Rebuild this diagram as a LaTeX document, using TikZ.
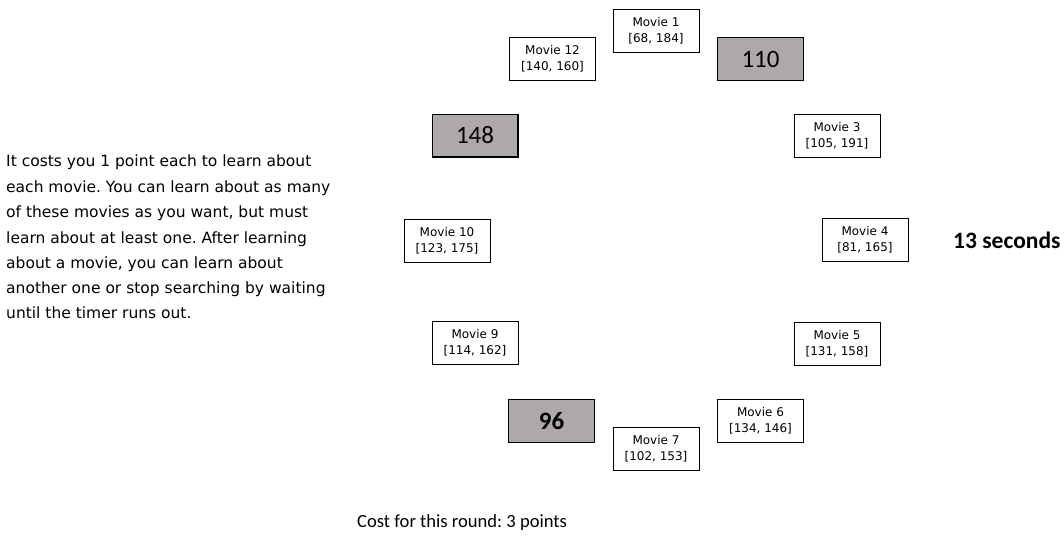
\documentclass[tikz,border=0pt]{standalone}
\usepackage{fontspec}
\setmainfont{DejaVu Sans}
\newfontfamily\carl{Carlito}
\definecolor{greyfill}{RGB}{173,169,169}
\frenchspacing
\begin{document}
\begin{tikzpicture}[x=1pt,y=-1pt,
  movie/.style={draw=black, line width=0.8pt, fill=white, minimum width=86pt, minimum height=43pt, inner sep=0pt, outer sep=0pt, align=center, font=\fontsize{12}{16}\selectfont},
  known/.style={draw=black, line width=0.9pt, fill=greyfill, minimum width=86pt, minimum height=43pt, inner sep=0pt, outer sep=0pt, font=\carl\fontsize{25}{28}\selectfont},
  info/.style={anchor=base west, inner sep=0pt, font=\fontsize{15.5}{25}\selectfont},
  shadowline/.style={line width=1.6pt}]
\useasboundingbox[fill=white] (0,0) rectangle (1064,540);
% movies around the circle
\node[movie] (m1)  at (656,31)    {Movie 1\\{[68, 184]}};
\node[known] (m2)  at (760.5,59)  {110};
\node[movie] (m3)  at (837,135.5) {Movie 3\\{[105, 191]}};
\node[movie] (m4)  at (865,240)   {Movie 4\\{[81, 165]}};
\node[movie] (m5)  at (837,344)   {Movie 5\\{[131, 158]}};
\node[movie] (m6)  at (760.5,421) {Movie 6\\{[134, 146]}};
\node[movie] (m7)  at (656,449)   {Movie 7\\{[102, 153]}};
\node[known, font=\carl\bfseries\fontsize{25}{28}\selectfont] (m8) at (551.5,421) {96};
\node[movie] (m9)  at (475,343)   {Movie 9\\{[114, 162]}};
\node[movie] (m10) at (447,240.5) {Movie 10\\{[123, 175]}};
\node[known] (m11) at (475,135.5) {148};
\node[movie] (m12) at (552.5,59)  {Movie 12\\{[140, 160]}};
% darker lower/right edges of the revealed boxes
\foreach \n in {m2,m8,m11}{
  \draw[shadowline] (\n.south west) -- (\n.south east) -- (\n.north east);
}
% instructions
\node[info] (l1) at (6,167) {It costs you 1 point each to learn about};
\node[info] (l2) at (6,192) {each movie. You can learn about as many};
\node[info] (l3) at (6,217) {of these movies as you want, but must};
\node[info] (l4) at (6,243) {learn about at least one. After learning};
\node[info] (l5) at (6,268) {about a movie, you can learn about};
\node[info] (l6) at (6,293) {another one or stop searching by waiting};
\node[info] (l7) at (6,318) {until the timer runs out.};
% timer and cost
\node[anchor=west, inner sep=0pt, font=\carl\bfseries\fontsize{23.5}{28}\selectfont] (timer) at (953,240) {13 seconds};
\node[anchor=west, inner sep=0pt, font=\carl\fontsize{18.6}{22}\selectfont] (cost) at (357,523) {Cost for this round: 3 points};
\end{tikzpicture}
\end{document}
